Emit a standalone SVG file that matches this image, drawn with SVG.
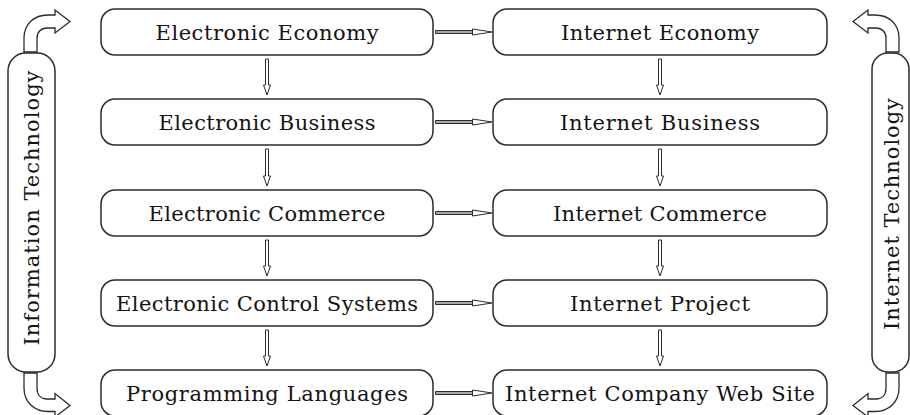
<svg xmlns="http://www.w3.org/2000/svg" width="910" height="415" viewBox="0 0 910 415">
<style>
.box{fill:#fff;stroke:#2b2b2b;stroke-width:1.5}
.lbl{font-family:"DejaVu Serif","Liberation Serif",serif;font-size:21px;fill:#141414;text-anchor:middle}
.ha{fill:#a8a8a8;stroke:#2b2b2b;stroke-width:1}
.va{fill:#fff;stroke:#2b2b2b;stroke-width:1}
.head{fill:#fff;stroke:#2b2b2b;stroke-width:1}
.big{fill:#fff;stroke:#2b2b2b;stroke-width:1.3;stroke-linejoin:miter}
</style>
<rect width="910" height="415" fill="#fff"/>
<g id="side-left">
<rect class="box" x="8" y="53" width="47" height="319" rx="18"/>
<text class="lbl" transform="translate(38.5,208) rotate(-90)" textLength="275" lengthAdjust="spacing">Information Technology</text>
</g>
<g id="side-right">
<rect class="box" x="872" y="53" width="37" height="319" rx="16"/>
<text class="lbl" transform="translate(899,214) rotate(-90)" textLength="232" lengthAdjust="spacing">Internet Technology</text>
</g>
<g id="n1"><rect class="box" x="101" y="9" width="332" height="46" rx="14"/><text class="lbl" x="267" y="39.5" textLength="223">Electronic Economy</text></g>
<g id="n2"><rect class="box" x="101" y="99" width="332" height="46" rx="14"/><text class="lbl" x="267" y="129.5" textLength="217">Electronic Business</text></g>
<g id="n3"><rect class="box" x="101" y="190" width="332" height="46" rx="14"/><text class="lbl" x="267" y="220.5" textLength="237">Electronic Commerce</text></g>
<g id="n4"><rect class="box" x="101" y="280" width="332" height="46" rx="14"/><text class="lbl" x="267" y="310.5" textLength="302">Electronic Control Systems</text></g>
<g id="n5"><rect class="box" x="101" y="370" width="332" height="46" rx="14"/><text class="lbl" x="267" y="400.5" textLength="282">Programming Languages</text></g>
<g id="m1"><rect class="box" x="493" y="9" width="334" height="46" rx="14"/><text class="lbl" x="660" y="39.5" textLength="198">Internet Economy</text></g>
<g id="m2"><rect class="box" x="493" y="99" width="334" height="46" rx="14"/><text class="lbl" x="660" y="129.5" textLength="200">Internet Business</text></g>
<g id="m3"><rect class="box" x="493" y="190" width="334" height="46" rx="14"/><text class="lbl" x="660" y="220.5" textLength="214">Internet Commerce</text></g>
<g id="m4"><rect class="box" x="493" y="280" width="334" height="46" rx="14"/><text class="lbl" x="660" y="310.5" textLength="180">Internet Project</text></g>
<g id="m5"><rect class="box" x="493" y="370" width="334" height="46" rx="14"/><text class="lbl" x="660" y="400.5" textLength="310">Internet Company Web Site</text></g>
<g id="connectors">
<path class="ha" d="M435.5,30.5H472.5V33.5H435.5Z"/><path class="head" d="M472.5,29L492,32L472.5,35Z"/>
<path class="ha" d="M435.5,120.5H472.5V123.5H435.5Z"/><path class="head" d="M472.5,119L492,122L472.5,125Z"/>
<path class="ha" d="M435.5,211.5H472.5V214.5H435.5Z"/><path class="head" d="M472.5,210L492,213L472.5,216Z"/>
<path class="ha" d="M435.5,301.5H472.5V304.5H435.5Z"/><path class="head" d="M472.5,300L492,303L472.5,306Z"/>
<path class="ha" d="M435.5,391.5H472.5V394.5H435.5Z"/><path class="head" d="M472.5,390L492,393L472.5,396Z"/>
<path class="va" d="M265.5,59V85H263.5L267,95L270.5,85H268.5V59Z"/>
<path class="va" d="M265.5,149V176H263.5L267,186L270.5,176H268.5V149Z"/>
<path class="va" d="M265.5,240V266H263.5L267,276L270.5,266H268.5V240Z"/>
<path class="va" d="M265.5,330V356H263.5L267,366L270.5,356H268.5V330Z"/>
<path class="va" d="M658.5,59V85H656.5L660,95L663.5,85H661.5V59Z"/>
<path class="va" d="M658.5,149V176H656.5L660,186L663.5,176H661.5V149Z"/>
<path class="va" d="M658.5,240V266H656.5L660,276L663.5,266H661.5V240Z"/>
<path class="va" d="M658.5,330V356H656.5L660,366L663.5,356H661.5V330Z"/>
<path class="big" d="M24,52V38C24,24 34,15 48,15H55V10L70,21.5L55,33V28H47C41,28 37,32 37,38V52Z"/>
<path class="big" d="M899,52V38C899,24 889,15 875,15H868V10L853,21.5L868,33V28H876C882,28 886,32 886,38V52Z"/>
<path class="big" d="M24,373H37V388C37,395 41,399 47,399H55V393.5L70,405.5L55,417V411.5H48C34,411.5 24,402 24,388Z"/>
<path class="big" d="M899,373H886V388C886,395 882,399 876,399H868V393.5L853,405.5L868,417V411.5H875C889,411.5 899,402 899,388Z"/>
</g>
</svg>
